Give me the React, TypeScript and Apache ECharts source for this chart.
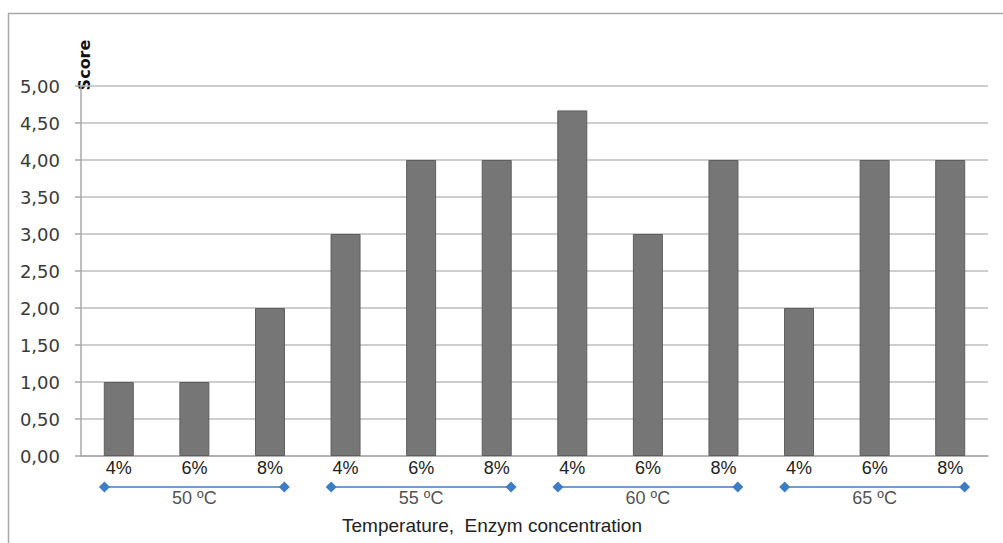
import React, { useEffect, useRef } from "react";
import * as echarts from "echarts";

const categories = ["4%", "6%", "8%", "4%", "6%", "8%", "4%", "6%", "8%", "4%", "6%", "8%"];
const scores = [1, 1, 2, 3, 4, 4, 4.67, 3, 4, 2, 4, 4];
const groups = ["50 ºC", "55 ºC", "60 ºC", "65 ºC"];
const groupSize = 3;
const yTicks = { min: 0, max: 5, interval: 0.5 };
const yTitle = "Score";
const xTitle = "Temperature,  Enzym concentration";

export default function App() {
  const ref = useRef<HTMLDivElement>(null);
  useEffect(() => {
    if (!ref.current) return;
    const chart = echarts.init(ref.current, undefined, { renderer: "svg" });
    const gridLeft = 81;
    const gridRight = 15;
    const groupSeries: any[] = [];
    groups.forEach((g, gi) => {
      const start = gi * groupSize;
      groupSeries.push({
        type: "line",
        xAxisIndex: 1,
        yAxisIndex: 1,
        data: [
          [start - 0.19, 0.5],
          [start + groupSize - 1 + 0.19, 0.5],
        ],
        symbol: "diamond",
        symbolSize: 11,
        itemStyle: { color: "#3d7dc3" },
        lineStyle: { color: "#3d7dc3", width: 1.5 },
        silent: true,
      });
      groupSeries.push({
        type: "scatter",
        xAxisIndex: 1,
        yAxisIndex: 1,
        data: [[start + (groupSize - 1) / 2, 0.5]],
        symbolSize: 0,
        label: {
          show: true,
          position: "inside",
          offset: [0, 11],
          formatter: () => g,
          color: "#222",
          fontSize: 18,
          fontFamily: "Liberation Sans, Arial, sans-serif",
        },
        silent: true,
      });
    });
    chart.setOption({
      animation: false,
      backgroundColor: "#ffffff",
      grid: [
        { left: gridLeft, right: gridRight, top: 86, bottom: 87 },
        { left: gridLeft, right: gridRight, top: 480, height: 14 },
      ],
      xAxis: [
        {
          type: "category",
          data: categories,
          gridIndex: 0,
          axisLine: { lineStyle: { color: "#a8a8a8", width: 1.5 } },
          axisTick: { show: false },
          axisLabel: {
            color: "#222",
            fontSize: 18,
            margin: 3,
            fontFamily: "Liberation Sans, Arial, sans-serif",
          },
        },
        { type: "value", gridIndex: 1, min: -0.5, max: categories.length - 0.5, show: false },
      ],
      yAxis: [
        {
          type: "value",
          gridIndex: 0,
          min: yTicks.min,
          max: yTicks.max,
          interval: yTicks.interval,
          axisLine: { show: true, lineStyle: { color: "#a8a8a8", width: 1.5 } },
          axisTick: { show: true, length: 6, lineStyle: { color: "#a8a8a8", width: 1.5 } },
          splitLine: { lineStyle: { color: "#bdbdbd", width: 1.5 } },
          axisLabel: {
            color: "#3a3a3a",
            fontSize: 18,
            margin: 21,
            fontFamily: "DejaVu Sans, sans-serif",
            formatter: (v: number) => v.toFixed(2).replace(".", ","),
          },
        },
        { type: "value", gridIndex: 1, min: 0, max: 1, show: false },
      ],
      series: [
        {
          type: "bar",
          data: scores,
          barWidth: 30,
          itemStyle: { color: "#767676", borderColor: "#5e5e5e", borderWidth: 1 },
        },
        ...groupSeries,
      ],
      graphic: [
        {
          type: "rect",
          shape: { x: 8.5, y: 13.5, width: 1010, height: 560 },
          style: { fill: "none", stroke: "#a8a8a8", lineWidth: 1.5 },
          silent: true,
        },
        {
          type: "text",
          x: 84,
          y: 65,
          rotation: Math.PI / 2,
          style: {
            text: yTitle,
            fontSize: 16,
            fontWeight: "bold",
            fontFamily: "DejaVu Sans, sans-serif",
            fill: "#111",
            align: "center",
            verticalAlign: "middle",
          },
        },
        {
          type: "text",
          x: 492,
          y: 525,
          style: {
            text: xTitle,
            fontSize: 19,
            fontFamily: "Liberation Sans, Arial, sans-serif",
            fill: "#222",
            align: "center",
            verticalAlign: "middle",
          },
        },
      ],
    });
    return () => chart.dispose();
  }, []);
  return (
    <div
      ref={ref}
      style={{ position: "fixed", left: 0, top: 0, width: 1003, height: 543 }}
    />
  );
}
